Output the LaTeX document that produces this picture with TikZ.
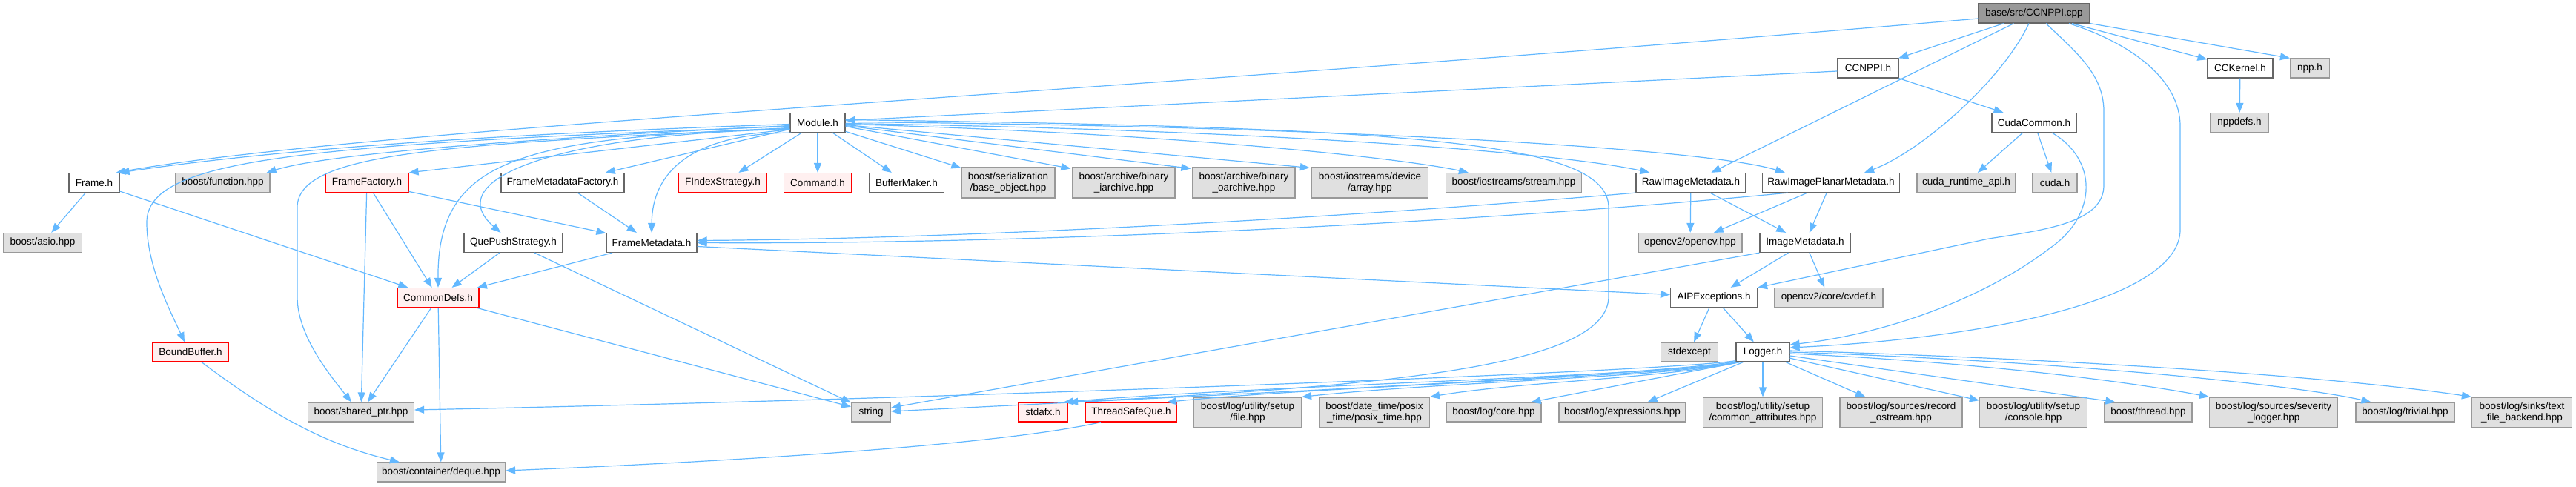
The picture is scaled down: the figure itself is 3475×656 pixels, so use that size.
\documentclass[tikz,border=0pt]{standalone}
\usepackage{fontspec}
\newfontfamily\lsans{Liberation Sans}
\usetikzlibrary{arrows.meta,calc}
\definecolor{edgec}{HTML}{63B8FF}
\definecolor{bordn}{HTML}{666666}
\definecolor{borde}{HTML}{999999}
\definecolor{fille}{HTML}{E0E0E0}
\definecolor{fillr}{HTML}{FFF0F0}
\definecolor{fillroot}{HTML}{999999}
\definecolor{bordr}{HTML}{FF0000}
\begin{document}
\begin{tikzpicture}[x=1pt,y=-1pt,
  nd/.style={draw=bordn, fill=white, line width=1.2pt, minimum height=26pt, inner xsep=3pt, inner ysep=0pt,
    font=\lsans\fontsize{13.5}{15}\selectfont, align=center, text=black},
  ext/.style={nd, draw=borde, fill=fille},
  trunc/.style={nd, draw=bordr, fill=fillr},
  rootn/.style={nd, fill=fillroot},
  two/.style={minimum height=41pt},
  edg/.style={draw=edgec, line width=1.2pt, -{Triangle[length=13pt,width=10pt]}}]
\useasboundingbox (0,0) rectangle (3475,656);
% row 0
\node[rootn, minimum width=150pt] (cpp) at (2744,18) {base/src/CCNPPI.cpp};
% row 1
\node[nd, minimum width=82pt] (ccnppih) at (2520,92) {CCNPPI.h};
\node[nd, minimum width=88pt] (cckernel) at (3022,92) {CCKernel.h};
\node[ext, minimum width=53pt] (npph) at (3116,92) {npp.h};
% row 2
\node[nd, minimum width=74pt] (module) at (1103,165.5) {Module.h};
\node[nd, minimum width=114pt] (cudacommon) at (2744,165.5) {CudaCommon.h};
\node[ext, minimum width=78pt] (nppdefs) at (3021,165.5) {nppdefs.h};
% row 3
\node[nd, minimum width=68pt] (frameh) at (127,246.5) {Frame.h};
\node[ext, minimum width=127pt] (function) at (300.5,246.5) {boost/function.hpp};
\node[trunc, minimum width=112pt] (framefactory) at (495,246.5) {FrameFactory.h};
\node[nd, minimum width=166pt] (fmfactory) at (759,246.5) {FrameMetadataFactory.h};
\node[trunc, minimum width=119pt] (findex) at (975,246.5) {FIndexStrategy.h};
\node[trunc, minimum width=91pt] (command) at (1103,246.5) {Command.h};
\node[nd, minimum width=101pt] (buffermaker) at (1223,246.5) {BufferMaker.h};
\node[ext, two, minimum width=126pt] (baseobject) at (1360,246.5) {boost/serialization\\/base\_object.hpp};
\node[ext, two, minimum width=138pt] (iarchive) at (1516,246.5) {boost/archive/binary\\\_iarchive.hpp};
\node[ext, two, minimum width=138pt] (oarchive) at (1678,246.5) {boost/archive/binary\\\_oarchive.hpp};
\node[ext, two, minimum width=157pt] (devarray) at (1848,246.5) {boost/iostreams/device\\/array.hpp};
\node[ext, minimum width=183pt] (stream) at (2042,246.5) {boost/iostreams/stream.hpp};
\node[nd, minimum width=148pt] (rawimg) at (2281,246.5) {RawImageMetadata.h};
\node[nd, minimum width=185pt] (rawplanar) at (2470,246.5) {RawImagePlanarMetadata.h};
\node[ext, minimum width=133pt] (cudart) at (2652.5,246.5) {cuda\_runtime\_api.h};
\node[ext, minimum width=60pt] (cudah) at (2772,246.5) {cuda.h};
% row 4
\node[ext, minimum width=106pt] (asio) at (57.6,327.5) {boost/asio.hpp};
\node[nd, minimum width=133pt] (quepush) at (692.5,327.5) {QuePushStrategy.h};
\node[nd, minimum width=122pt] (framemeta) at (879,327.5) {FrameMetadata.h};
\node[ext, minimum width=140pt] (opencv) at (2280,327.5) {opencv2/opencv.hpp};
\node[nd, minimum width=122pt] (imagemeta) at (2435,327.5) {ImageMetadata.h};
% row 5
\node[trunc, minimum width=110pt] (commondefs) at (591,401.5) {CommonDefs.h};
\node[nd, minimum width=117pt] (aipexc) at (2312,401.5) {AIPExceptions.h};
\node[ext, minimum width=146pt] (cvdef) at (2467,401.5) {opencv2/core/cvdef.h};
% row 6
\node[trunc, minimum width=103pt] (boundbuffer) at (257,475) {BoundBuffer.h};
\node[ext, minimum width=77pt] (stdexcept) at (2279,475) {stdexcept};
\node[nd, minimum width=72pt] (logger) at (2378,475) {Logger.h};
% row 7
\node[ext, minimum width=143pt] (sharedptr) at (487,556) {boost/shared\_ptr.hpp};
\node[ext, minimum width=53pt] (string) at (1175,556) {string};
\node[trunc, minimum width=67pt] (stdafx) at (1407,556) {stdafx.h};
\node[trunc, minimum width=123pt] (tsq) at (1526,556) {ThreadSafeQue.h};
\node[ext, two, minimum width=145pt] (filehpp) at (1683,556.5) {boost/log/utility/setup\\/file.hpp};
\node[ext, two, minimum width=149pt] (posix) at (1854,556.5) {boost/date\_time/posix\\\_time/posix\_time.hpp};
\node[ext, minimum width=128pt] (core) at (2015,556) {boost/log/core.hpp};
\node[ext, minimum width=171pt] (expr) at (2188.5,556) {boost/log/expressions.hpp};
\node[ext, two, minimum width=161pt] (commonattr) at (2378,556.5) {boost/log/utility/setup\\/common\_attributes.hpp};
\node[ext, two, minimum width=165pt] (recordos) at (2564.5,556.5) {boost/log/sources/record\\\_ostream.hpp};
\node[ext, two, minimum width=145pt] (console) at (2743,556.5) {boost/log/utility/setup\\/console.hpp};
\node[ext, minimum width=118pt] (thread) at (2898,556) {boost/thread.hpp};
\node[ext, two, minimum width=173pt] (severity) at (3067,556.5) {boost/log/sources/severity\\\_logger.hpp};
\node[ext, minimum width=133pt] (trivial) at (3244.5,556) {boost/log/trivial.hpp};
\node[ext, two, minimum width=135pt] (textfile) at (3402,556.5) {boost/log/sinks/text\\\_file\_backend.hpp};
% row 8
\node[ext, minimum width=173pt] (deque) at (595,637) {boost/container/deque.hpp};

% ---- edges from cpp
\draw[edg] ($(cpp.west)+(0,7)$) .. controls (1500,125) and (500,172) .. ($(frameh.north east)+(-5,0)$);
\draw[edg] (cpp) -- (ccnppih);
\draw[edg] (cpp) -- (rawimg);
\draw[edg] ($(cpp.south)+(-7,0)$) .. controls (2700,110) and (2590,205) .. ($(rawplanar.north)+(45,0)$);
\draw[edg] ($(cpp.south)+(16,0)$) .. controls (2800,70) and (2838,100) .. (2838,150) -- (2838,250) .. controls (2838,300) and (2760,310) .. (2683,322) -- (aipexc.north east);
\draw[edg] ($(cpp.south)+(47,0)$) .. controls (2880,60) and (2941,110) .. (2941,170) -- (2941,310) .. controls (2941,400) and (2700,455) .. ($(logger.east)+(0,-6)$);
\draw[edg] (cpp) -- (cckernel);
\draw[edg] (cpp.south east) -- (npph.north west);
% ---- CCNPPI.h
\draw[edg] ($(ccnppih.west)+(0,4)$) -- ($(module.east)+(0,-3)$);
\draw[edg] (ccnppih) -- (cudacommon);
% ---- CudaCommon.h
\draw[edg] (cudacommon) -- (cudart);
\draw[edg] (cudacommon) -- (cudah);
\draw[edg] ($(cudacommon.south)+(24,0)$) .. controls (2830,215) and (2830,290) .. (2765,335) .. controls (2680,400) and (2550,450) .. ($(logger.east)+(0,-10)$);
% ---- CCKernel.h
\draw[edg] (cckernel) -- (nppdefs);
% ---- Module.h
\draw[edg] ($(module.west)+(0,2)$) .. controls (700,180) and (400,198) .. (frameh.north east);
\draw[edg] ($(module.west)+(0,4)$) .. controls (750,185) and (450,205) .. ($(function.north east)+(-5,0)$);
\draw[edg] ($(module.west)+(0,9)$) -- (framefactory.north east);
\draw[edg] ($(module.west)+(0,5)$) .. controls (400,195) and (198,215) .. (198,300) .. controls (198,360) and (230,420) .. ($(boundbuffer.north)+(-8,0)$);
\draw[edg] ($(module.west)+(0,7)$) .. controls (600,195) and (401,205) .. (401,280) -- (401,400) .. controls (401,450) and (440,500) .. ($(sharedptr.north)+(-13,0)$);
\draw[edg] ($(module.west)+(0,8)$) .. controls (700,185) and (590,215) .. (commondefs.north);
\draw[edg] ($(module.west)+(0,9)$) .. controls (760,180) and (590,240) .. ($(quepush.north)+(-17,0)$);
\draw[edg] (module) -- (fmfactory);
\draw[edg] ($(module.south west)+(2,0)$) .. controls (960,180) and (880,215) .. (framemeta.north);
\draw[edg] (module) -- (findex);
\draw[edg] (module) -- (command);
\draw[edg] (module) -- (buffermaker);
\draw[edg] (module) -- (baseobject);
\draw[edg] ($(module.east)+(0,5)$) -- ($(iarchive.north west)+(-2,2)$);
\draw[edg] ($(module.east)+(0,4)$) -- ($(oarchive.north west)+(-2,2)$);
\draw[edg] ($(module.east)+(0,3)$) -- ($(devarray.north west)+(-2,1)$);
\draw[edg] ($(module.east)+(0,2)$) .. controls (1600,180) and (1900,215) .. ($(stream.north west)+(31,0)$);
\draw[edg] ($(module.east)+(0,1)$) .. controls (1700,175) and (2100,205) .. ($(rawimg.north west)+(19,0)$);
\draw[edg] ($(module.east)+(0,-1)$) .. controls (1800,170) and (2300,200) .. ($(rawplanar.north west)+(31,0)$);
\draw[edg] ($(module.east)+(0,-4)$) .. controls (1900,172) and (2170,190) .. (2170,280) -- (2170,400) .. controls (2170,490) and (1900,520) .. (stdafx.north east);
% ---- Frame.h
\draw[edg] (frameh) -- (asio);
\draw[edg] (frameh) -- (commondefs);
% ---- FrameFactory.h
\draw[edg] (framefactory) -- (sharedptr);
\draw[edg] (framefactory) -- (commondefs);
\draw[edg] (framefactory) -- (framemeta);
% ---- FrameMetadataFactory.h
\draw[edg] (fmfactory) -- (framemeta);
% ---- QuePushStrategy.h
\draw[edg] (quepush) -- (commondefs);
\draw[edg] (quepush) -- (string);
% ---- FrameMetadata.h
\draw[edg] (framemeta) -- (commondefs);
\draw[edg] ($(framemeta.east)+(0,5)$) -- ($(aipexc.west)+(0,-4)$);
% ---- RawImageMetadata.h
\draw[edg] (rawimg.south west) .. controls (1800,295) and (1300,322) .. ($(framemeta.east)+(0,-3)$);
\draw[edg] (rawimg) -- (opencv);
\draw[edg] (rawimg) -- (imagemeta);
% ---- RawImagePlanarMetadata.h
\draw[edg] ($(rawplanar.south west)+(35,0)$) .. controls (2000,300) and (1400,330) .. (framemeta.east);
\draw[edg] (rawplanar) -- (opencv);
\draw[edg] (rawplanar) -- (imagemeta);
% ---- ImageMetadata.h
\draw[edg] (imagemeta) -- (aipexc);
\draw[edg] (imagemeta) -- (cvdef);
\draw[edg] (imagemeta.south west) -- ($(string.east)+(0,-6)$);
% ---- AIPExceptions.h
\draw[edg] (aipexc) -- (stdexcept);
\draw[edg] (aipexc) -- (logger);
% ---- CommonDefs.h
\draw[edg] (commondefs) -- (sharedptr);
\draw[edg] (commondefs) -- (deque);
\draw[edg] (commondefs) -- (string);
% ---- BoundBuffer.h
\draw[edg] ($(boundbuffer.south)+(15,0)$) .. controls (380,570) and (450,602) .. ($(deque.north west)+(31,0)$);
% ---- ThreadSafeQue.h
\draw[edg] ($(tsq.south west)+(21,0)$) .. controls (1350,600) and (1000,622) .. ($(deque.east)+(0,-2)$);
% ---- Logger.h
\draw[edg] ($(logger.south west)+(0,-2)$) .. controls (2250,502) and (1200,540) .. ($(sharedptr.east)+(0,-3)$);
\draw[edg] ($(logger.south west)+(0,-1)$) .. controls (2250,505) and (1600,535) .. ($(string.east)+(0,-1)$);
\draw[edg] ($(logger.south west)+(1,0)$) .. controls (2250,507) and (1700,520) .. ($(stdafx.north east)+(-6,0)$);
\draw[edg] ($(logger.south west)+(2,0)$) .. controls (2250,508) and (1800,520) .. ($(tsq.north east)+(-14,0)$);
\draw[edg] ($(logger.south west)+(3,0)$) .. controls (2250,509) and (1950,515) .. (filehpp.north east);
\draw[edg] ($(logger.south west)+(4,0)$) .. controls (2250,510) and (2050,515) .. (posix.north east);
\draw[edg] ($(logger.south west)+(6,0)$) -- ($(core.north east)+(-14,0)$);
\draw[edg] ($(logger.south west)+(10,0)$) -- ($(expr.north east)+(-52,0)$);
\draw[edg] (logger) -- (commonattr);
\draw[edg] (logger) -- (recordos);
\draw[edg] (logger) -- (console);
\draw[edg] ($(logger.east)+(0,5)$) -- ($(thread.north west)+(15,0)$);
\draw[edg] ($(logger.east)+(0,2)$) .. controls (2700,490) and (2900,520) .. (severity.north west);
\draw[edg] (logger.east) .. controls (2800,488) and (3100,520) .. ($(trivial.north west)+(21,0)$);
\draw[edg] ($(logger.east)+(0,-2)$) .. controls (2900,488) and (3200,515) .. (textfile.north west);
\end{tikzpicture}
\end{document}
